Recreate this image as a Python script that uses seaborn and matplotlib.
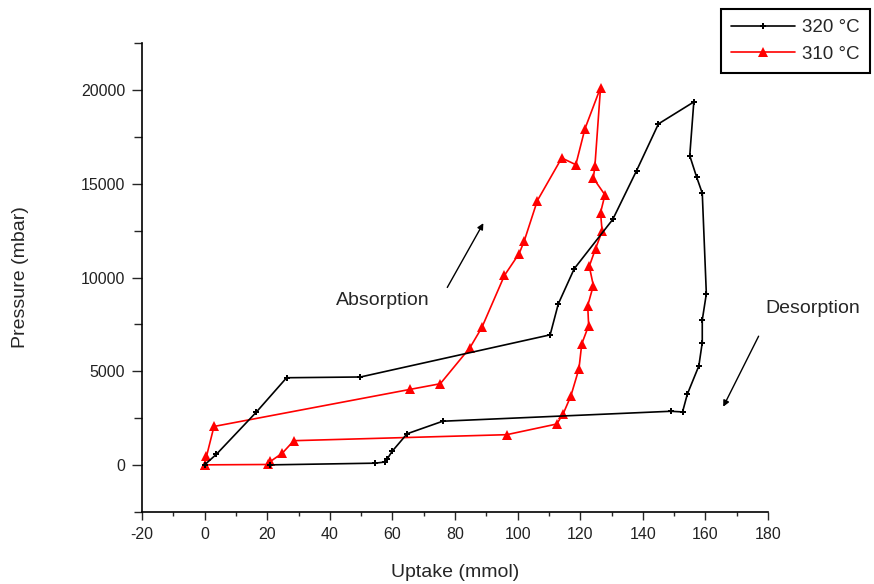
import matplotlib
matplotlib.use("Agg")
import matplotlib.pyplot as plt
import seaborn as sns
import pandas as pd
from matplotlib.ticker import MultipleLocator

# 320 °C series (absorption then desorption)
uptake_320 = [0, 3.8, 16.5, 26.2, 49.8, 110.4, 113.0, 118.1, 130.4, 138.0, 145.0, 156.3,
              155.0, 157.2, 159.0, 160.3, 159.0, 159.0, 157.9, 154.2, 152.7, 148.9,
              76.1, 64.7, 59.9, 58.3, 57.5, 54.5, 21.0]
pressure_320 = [0, 570, 2810, 4650, 4690, 6940, 8590, 10470, 13100, 15700, 18200, 19370,
                16500, 15360, 14500, 9130, 7730, 6530, 5280, 3760, 2825, 2860,
                2330, 1660, 720, 300, 150, 90, 0]

# 310 °C series
uptake_310 = [0, 0.6, 3.0, 65.7, 75.3, 84.8, 88.6, 95.8, 100.5, 102.1, 106.3, 114.1, 118.6, 121.5, 126.5,
              124.7, 124.2, 127.9, 126.5, 127.0, 124.9, 122.9, 124.2, 122.4, 122.7, 120.5, 119.6, 117.0,
              114.6, 112.5, 96.5, 28.5, 24.8, 21.0, 20.3, 0]
pressure_310 = [0, 450, 2050, 4030, 4330, 6260, 7340, 10110, 11280, 11940, 14100, 16380, 16020, 17930, 20140,
                15960, 15300, 14410, 13460, 12470, 11540, 10600, 9570, 8500, 7430, 6460, 5130, 3670,
                2740, 2180, 1610, 1290, 620, 180, 20, 0]

labels = ["320 °C", "310 °C"]
x_ticks = list(range(-20, 181, 20))
y_ticks = [0, 5000, 10000, 15000, 20000]

sns.set_style("ticks")
plt.rcParams['font.family'] = ['Liberation Sans', 'DejaVu Sans']
plt.rcParams['axes.unicode_minus'] = False

fig = plt.figure(figsize=(8.74, 5.84), dpi=100)
ax = fig.add_axes([142/874, 1-511.7/584, (768-142)/874, (511.7-43.3)/584])

df320 = pd.DataFrame({"Uptake": uptake_320, "Pressure": pressure_320})
df310 = pd.DataFrame({"Uptake": uptake_310, "Pressure": pressure_310})

sns.lineplot(data=df320, x="Uptake", y="Pressure", sort=False, estimator=None, ax=ax,
             color="black", lw=1.2, marker="P", markersize=5, markeredgewidth=0,
             label=labels[0], zorder=3)
sns.lineplot(data=df310, x="Uptake", y="Pressure", sort=False, estimator=None, ax=ax,
             color="red", lw=1.2, marker="^", markersize=6.5, markeredgewidth=0,
             label=labels[1], zorder=2)

ax.set_xlim(-20, 180)
ax.set_ylim(-2500, 22500)
ax.set_xticks(x_ticks)
ax.set_yticks(y_ticks)
ax.xaxis.set_minor_locator(MultipleLocator(10))
ax.yaxis.set_minor_locator(MultipleLocator(2500))
ax.tick_params(axis='x', which='major', direction='out', length=6, width=1, labelsize=11.5, pad=5)
ax.tick_params(axis='x', which='minor', direction='out', length=3, width=1)
ax.tick_params(axis='y', which='major', direction='out', length=7, width=1, labelsize=11.5, pad=5)
ax.tick_params(axis='y', which='minor', direction='out', length=5.5, width=1)
for lab in ax.get_xticklabels() + ax.get_yticklabels():
    lab.set_color('#222222')
sns.despine(ax=ax)
for s in ["left", "bottom"]:
    ax.spines[s].set_linewidth(1.2)
    ax.spines[s].set_color("black")

ax.set_xlabel("Uptake (mmol)", fontsize=14)
ax.set_ylabel("Pressure (mbar)", fontsize=14)
ax.xaxis.set_label_coords(0.5, -0.112)
ax.yaxis.set_label_coords(-0.18, 0.5)

# annotations
ax.annotate("", xy=(89.5, 13030), xytext=(77.1, 9340),
            arrowprops=dict(arrowstyle="-|>", color="black", lw=1, mutation_scale=9))
ax.text(57, 8770, "Absorption", fontsize=14, ha="center", va="center")
ax.annotate("", xy=(165.3, 2970), xytext=(177.4, 7000),
            arrowprops=dict(arrowstyle="-|>", color="black", lw=1, mutation_scale=9),
            annotation_clip=False)
ax.text(194.4, 8350, "Desorption", fontsize=14, ha="center", va="center", clip_on=False)

ax.get_legend().remove()
handles, labs = ax.get_legend_handles_labels()
leg = fig.legend(handles, labs, loc="upper right", bbox_to_anchor=(870/874, 1-9/584),
                 frameon=True, fancybox=False, fontsize=13.5, handlelength=3.4,
                 borderpad=0.55, labelspacing=0.5, handletextpad=0.4, borderaxespad=0)
leg.get_frame().set_edgecolor("black")
leg.get_frame().set_linewidth(1.5)
leg.get_frame().set_alpha(1)

fig.savefig("out.png", dpi=100)
